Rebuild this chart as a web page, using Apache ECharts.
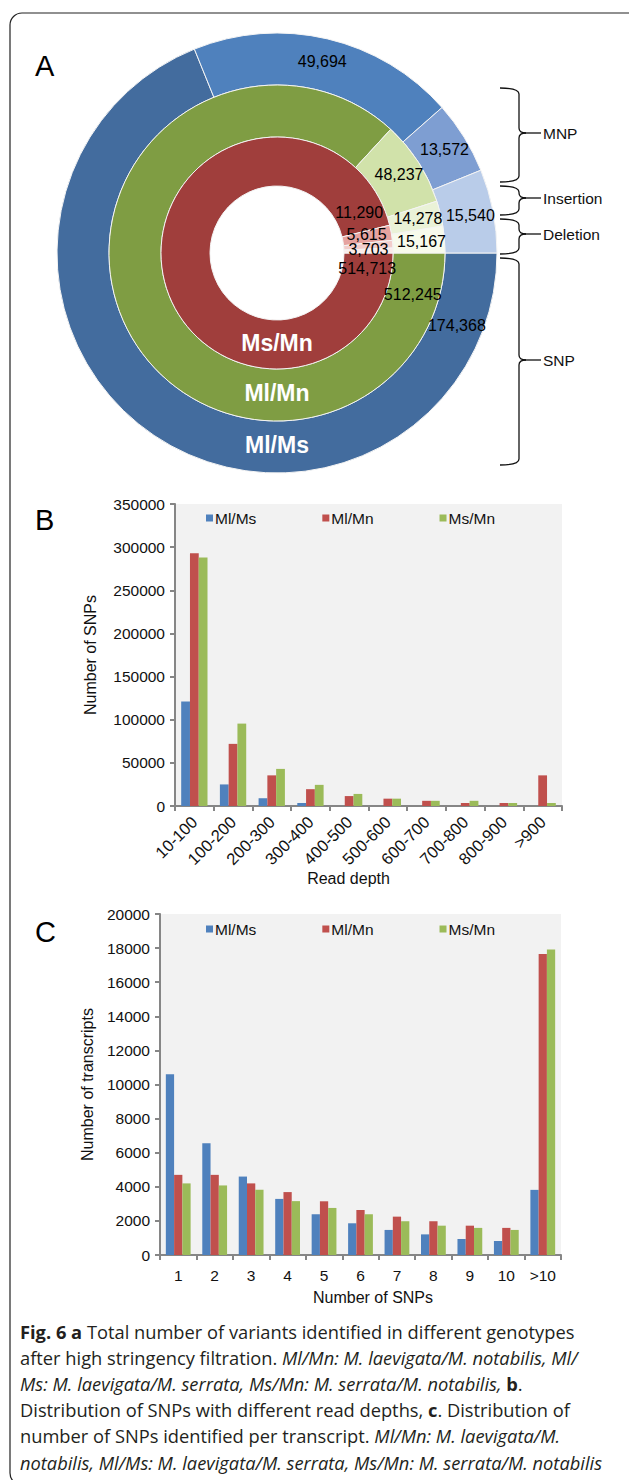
<!DOCTYPE html>
<html>
<head>
<meta charset="utf-8">
<script src="https://cdn.jsdelivr.net/npm/echarts@6/dist/echarts.min.js"></script>
<style>
  html, body { margin: 0; padding: 0; background: #ffffff; }
  #chart { width: 629px; height: 1480px; }
</style>
</head>
<body>
<div id="chart"></div>
<script>
// ---- Panel A: variants per genotype pair (order: SNP, MNP, Insertion, Deletion) ----
const variantTypes = ['SNP', 'MNP', 'Insertion', 'Deletion'];
const mlMsVariants = [174368, 49694, 13572, 15540];
const mlMnVariants = [512245, 48237, 14278, 15167];
const msMnVariants = [514713, 11290, 5615, 3703];
const ringNames = ['Ms/Mn', 'Ml/Mn', 'Ml/Ms'];

// ---- Panel B: SNPs per read-depth bin ----
const depthBins = ['10-100', '100-200', '200-300', '300-400', '400-500',
                   '500-600', '600-700', '700-800', '800-900', '>900'];
const depthMlMs = [121000, 25000, 9000, 3500, 0, 0, 0, 0, 0, 0];
const depthMlMn = [293000, 72000, 35500, 19500, 11500, 8500, 6000, 3500, 3500, 35500];
const depthMsMn = [288000, 95500, 43000, 24500, 14000, 8500, 6000, 6000, 3500, 3500];

// ---- Panel C: transcripts by number of SNPs ----
const snpBins = ['1', '2', '3', '4', '5', '6', '7', '8', '9', '10', '>10'];
const txMlMs = [10600, 6550, 4600, 3290, 2390, 1860, 1470, 1210, 940, 820, 3820];
const txMlMn = [4700, 4700, 4200, 3690, 3150, 2640, 2250, 1980, 1720, 1590, 17650];
const txMsMn = [4200, 4080, 3820, 3160, 2760, 2390, 1980, 1720, 1590, 1470, 17920];

const pairNames = ['Ml/Ms', 'Ml/Mn', 'Ms/Mn'];

// ---- styling ----
const FONT = '"Liberation Sans", Arial, sans-serif';
const CAPTION_FONT = '"Open Sans", "Noto Sans", sans-serif';
const CX = 277, CY = 253;
const barColors = ['#4F81BD', '#C0504D', '#9BBB59'];
const axisGray = '#868686';

const rings = {
  inner:  { r0: 67,  r1: 116, colors: ['#A03E3C', '#E6A3A0', '#F2CDCB', '#FBEBEA'],
            // stacked label angles (deg) for the narrow slices, SNP label just below 3 o'clock
            labelAngles: [-9.5, 26, 11.7, 2.5] },
  middle: { r0: 116, r1: 168, colors: ['#7F9D43', '#D1E2AA', '#EAF2D7', '#F7FAEC'],
            labelAngles: [-17, null, null, null] },
  outer:  { r0: 168, r1: 220, colors: ['#436C9E', '#4F81BD', '#7E9ED2', '#B9CCE9'],
            labelAngles: [-22, null, null, null] }
};

function fmt(v) { return v.toLocaleString('en-US'); }

function ringSeries(ring, values, name) {
  return {
    type: 'pie',
    name: name + ' variants',
    center: [CX, CY],
    radius: [ring.r0, ring.r1],
    startAngle: 0,
    clockwise: true,
    silent: true,
    animation: false,
    avoidLabelOverlap: false,
    itemStyle: { borderColor: '#f4f4f4', borderWidth: 1 },
    label: {
      show: true, position: 'inside', color: '#000', fontFamily: FONT, fontSize: 16,
      formatter: p => fmt(p.value)
    },
    labelLine: { show: false },
    labelLayout: function (p) {
      const a = ring.labelAngles[p.dataIndex];
      if (a == null) return {};
      const r = (ring.r0 + ring.r1) / 2;
      const rad = a * Math.PI / 180;
      return { x: CX + r * Math.cos(rad), y: CY - r * Math.sin(rad),
               align: 'center', verticalAlign: 'middle' };
    },
    data: variantTypes.map((t, i) => ({
      name: t, value: values[i], itemStyle: { color: ring.colors[i] }
    }))
  };
}

function barSeries(values, idx, axisIdx) {
  return {
    type: 'bar', name: pairNames[idx], xAxisIndex: axisIdx, yAxisIndex: axisIdx,
    data: values, barGap: '0%', barCategoryGap: '32%', animation: false,
    itemStyle: { color: barColors[idx] }
  };
}

function valueAxis(gridIndex, max, interval, name, nameGap) {
  return {
    type: 'value', gridIndex, min: 0, max, interval,
    name, nameLocation: 'middle', nameGap,
    nameTextStyle: { fontFamily: FONT, fontSize: 16, color: '#111' },
    axisLine: { show: true, lineStyle: { color: axisGray, width: 2 } },
    axisTick: { show: true, length: 5, lineStyle: { color: axisGray, width: 2 } },
    axisLabel: { fontFamily: FONT, fontSize: 15.5, color: '#111', margin: 10,
                 formatter: v => String(v) },
    splitLine: { show: false }
  };
}

function categoryAxis(gridIndex, cats, name, nameGap, rotate, namePadding) {
  return {
    type: 'category', gridIndex, data: cats,
    name, nameLocation: 'middle', nameGap,
    nameTextStyle: { fontFamily: FONT, fontSize: 16, color: '#111', padding: namePadding },
    axisLine: { show: true, lineStyle: { color: axisGray, width: 2 } },
    axisTick: { show: true, length: 5, lineStyle: { color: axisGray, width: 2 } },
    axisLabel: { fontFamily: FONT, fontSize: rotate ? 16.5 : 15.5, color: '#111', rotate,
                 margin: rotate ? 13 : 12, interval: 0 }
  };
}

function legend(top) {
  return {
    data: pairNames, left: 201, top, orient: 'horizontal',
    icon: 'rect', itemWidth: 7, itemHeight: 7, itemGap: 66,
    selectedMode: false,
    textStyle: { fontFamily: FONT, fontSize: 15.5, color: '#111', padding: [0, 0, 0, -3] }
  };
}

// curly brace: ends at x0, spine at x1, tip pointing right at ym, then a lead line
function braceGroup(y1, y2, ym) {
  const x0 = 500, x1 = 519, tip = 526, lead = 541;
  const st = { fill: 'none', stroke: '#111', lineWidth: 1.3 };
  const curve = (a, b, c, d, cx, cy) => ({ type: 'bezierCurve',
    shape: { x1: a, y1: b, x2: c, y2: d, cpx1: cx, cpy1: cy }, style: st, silent: true });
  const seg = (a, b, c, d) => ({ type: 'line',
    shape: { x1: a, y1: b, x2: c, y2: d }, style: st, silent: true });
  return {
    type: 'group', silent: true,
    children: [
      curve(x0, y1, x1, y1 + 6, x1, y1),
      seg(x1, y1 + 6, x1, ym - 5),
      curve(x1, ym - 5, tip, ym, x1, ym),
      curve(tip, ym, x1, ym + 5, x1, ym),
      seg(x1, ym + 5, x1, y2 - 6),
      curve(x1, y2 - 6, x0, y2, x1, y2),
      seg(tip, ym, lead, ym)
    ]
  };
}
const braces = [
  { label: 'MNP', y1: 88, y2: 182, ym: 133 },
  { label: 'Insertion', y1: 186, y2: 215, ym: 198 },
  { label: 'Deletion', y1: 219, y2: 254, ym: 234 },
  { label: 'SNP', y1: 258, y2: 465, ym: 360 }
];

const captionLines = [
  '{b|Fig. 6 a} {n|Total number of variants identified in different genotypes}',
  '{n|after high stringency filtration. }{i|Ml/Mn: M. laevigata/M. notabilis, Ml/}',
  '{i|Ms: M. laevigata/M. serrata, Ms/Mn: M. serrata/M. notabilis,} {b|b}{n|.}',
  '{n|Distribution of SNPs with different read depths, }{b|c}{n|. Distribution of}',
  '{n|number of SNPs identified per transcript. }{i|Ml/Mn: M. laevigata/M.}',
  '{i|notabilis, Ml/Ms: M. laevigata/M. serrata, Ms/Mn: M. serrata/M. notabilis}'
];
const CAP_SIZE = 18.3;
const capStyle = { fontFamily: CAPTION_FONT, fontSize: CAP_SIZE, fill: '#231f20', fontWeight: 'normal' };

const graphics = [
  { type: 'rect', shape: { x: 10, y: 13, width: 700, height: 1472, r: 12 },
    style: { fill: 'none', stroke: '#222', lineWidth: 1.2 }, silent: true, z: 0 },
  ...[['A', 51], ['B', 505], ['C', 917]].map(([t, y]) => ({
    type: 'text', x: 35, y, silent: true,
    style: { text: t, font: `29px ${FONT}`, fill: '#000', verticalAlign: 'top' }
  })),
  ...ringNames.map((t, i) => {
    const ring = [rings.inner, rings.middle, rings.outer][i];
    return { type: 'text', x: CX, y: CY + (ring.r0 + ring.r1) / 2 - 2, silent: true, z: 10,
      style: { text: t, font: `bold 23px ${FONT}`, fill: '#fff', align: 'center', verticalAlign: 'middle' } };
  }),
  ...braces.map(b => braceGroup(b.y1, b.y2, b.ym)),
  ...braces.map(b => ({
    type: 'text', x: 543, y: b.ym, silent: true,
    style: { text: b.label, font: `15.5px ${FONT}`, fill: '#111', verticalAlign: 'middle' }
  })),
  ...captionLines.map((line, i) => ({
    type: 'text', x: 20, y: 1331 + i * 26.2, silent: true,
    style: {
      text: line, verticalAlign: 'middle', fontFamily: CAPTION_FONT, fontSize: CAP_SIZE, fill: '#231f20',
      rich: {
        n: Object.assign({}, capStyle),
        i: Object.assign({}, capStyle, { fontStyle: 'italic' }),
        b: Object.assign({}, capStyle, { fontWeight: 'bold' })
      }
    }
  }))
];

const chart = echarts.init(document.getElementById('chart'), null, { renderer: 'svg' });
chart.setOption({
  animation: false,
  backgroundColor: '#ffffff',
  legend: [legend(505), legend(916)],
  grid: [
    { left: 175, top: 504, width: 387, height: 302, show: true, backgroundColor: '#F2F2F2', borderWidth: 0 },
    { left: 160, top: 914, width: 401, height: 341, show: true, backgroundColor: '#F2F2F2', borderWidth: 0 }
  ],
  xAxis: [
    categoryAxis(0, depthBins, 'Read depth', 62, 45, [0, 40, 0, 0]),
    categoryAxis(1, snpBins, 'Number of SNPs', 34, 0, [0, 0, 0, 25])
  ],
  yAxis: [
    valueAxis(0, 350000, 50000, 'Number of SNPs', 77),
    valueAxis(1, 20000, 2000, 'Number of transcripts', 65)
  ],
  series: [
    ringSeries(rings.outer, mlMsVariants, 'Ml/Ms'),
    ringSeries(rings.middle, mlMnVariants, 'Ml/Mn'),
    ringSeries(rings.inner, msMnVariants, 'Ms/Mn'),
    barSeries(depthMlMs, 0, 0), barSeries(depthMlMn, 1, 0), barSeries(depthMsMn, 2, 0),
    barSeries(txMlMs, 0, 1), barSeries(txMlMn, 1, 1), barSeries(txMsMn, 2, 1)
  ],
  graphic: graphics
});
</script>
</body>
</html>
